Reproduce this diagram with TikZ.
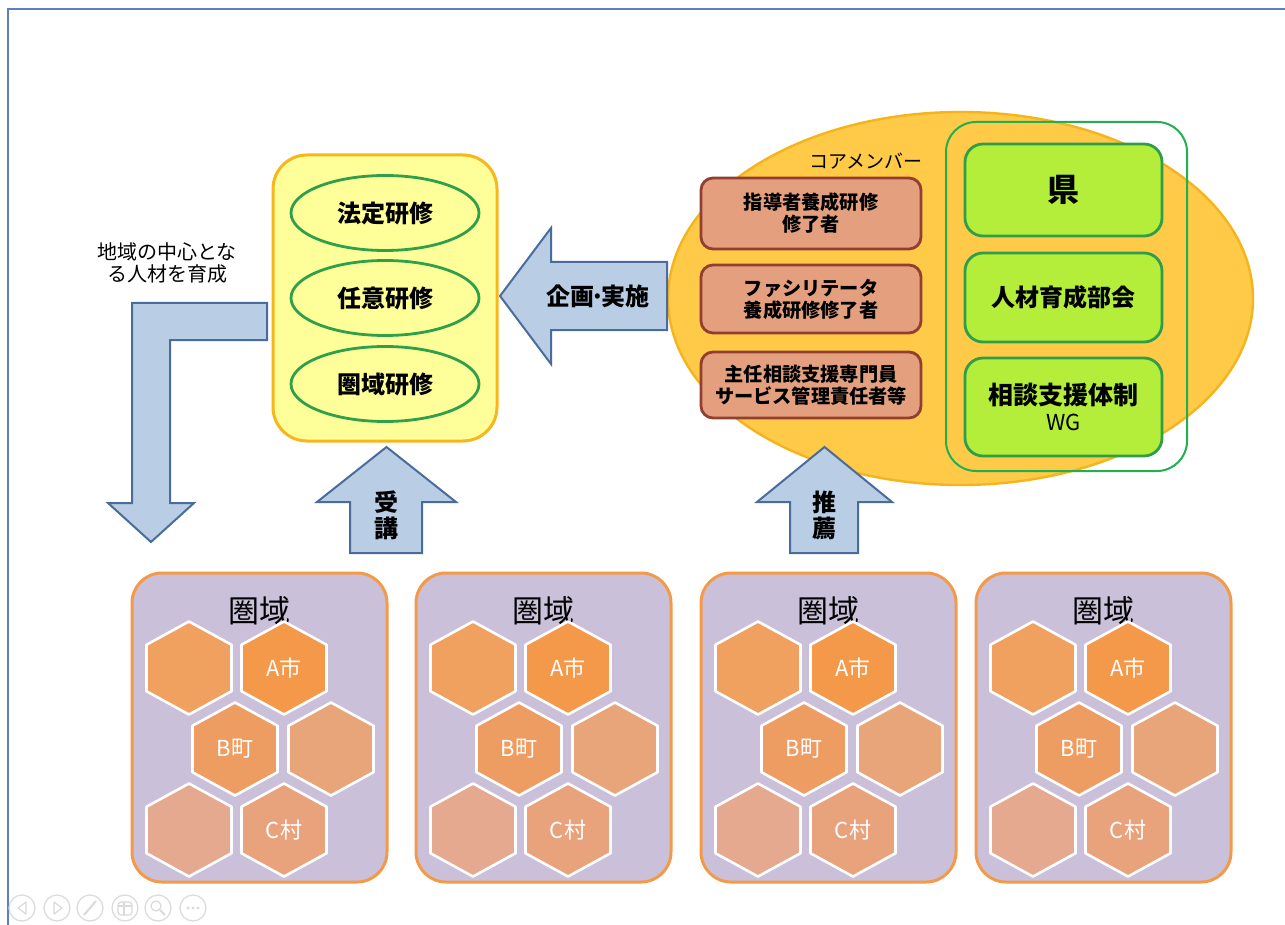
\documentclass[tikz,border=0pt]{standalone}
\usepackage{fontspec}
\setmainfont{Noto Sans CJK JP}
\usetikzlibrary{shapes.geometric}
\definecolor{frameblue}{HTML}{5B7EC6}
\definecolor{ybox}{HTML}{FFFF99}
\definecolor{ybord}{HTML}{F6B61C}
\definecolor{ovgreen}{HTML}{2EA04A}
\definecolor{ellf}{HTML}{FFCA47}
\definecolor{ellb}{HTML}{F5B41E}
\definecolor{brf}{HTML}{E4A07E}
\definecolor{brb}{HTML}{923E31}
\definecolor{gout}{HTML}{24AE50}
\definecolor{gbd}{HTML}{2E9E4A}
\definecolor{gfill}{HTML}{B4EE3A}
\definecolor{regf}{HTML}{CBC0DA}
\definecolor{regb}{HTML}{F39A4A}
\definecolor{arrf}{HTML}{B9CDE5}
\definecolor{arrb}{HTML}{4A6C9B}
\definecolor{hexa}{HTML}{F0A05F}
\definecolor{hexb}{HTML}{F4984A}
\definecolor{hexc}{HTML}{EE9D62}
\definecolor{hexd}{HTML}{E9A57A}
\definecolor{hexe}{HTML}{E4A98E}
\definecolor{hexf}{HTML}{E8A27C}
\definecolor{navgray}{HTML}{DADADA}
\newcommand\hexshape[3]{%
  \filldraw[hexst, fill=#3] (#1,#2) ++(0,-46.5) -- ++(42.5,23.25) -- ++(0,46.5)
    -- ++(-42.5,23.25) -- ++(-42.5,-23.25) -- ++(0,-46.5) -- cycle;}
\begin{document}
\begin{tikzpicture}[x=0.5pt,y=-0.5pt,
  yellowbox/.style={draw=ybord, fill=ybox, line width=1.5pt, rounded corners=17pt,
    minimum width=112pt, minimum height=143pt},
  ov/.style={ellipse, draw=ovgreen, fill=ybox, line width=1.4pt, minimum width=94pt,
    minimum height=37.5pt, inner sep=0pt, font=\bfseries\fontsize{12}{14}\selectfont},
  bigell/.style={ellipse, draw=ellb, fill=ellf, line width=1.2pt,
    minimum width=292.5pt, minimum height=186.5pt, inner sep=0pt},
  brownbox/.style={draw=brb, fill=brf, line width=1.4pt, rounded corners=6pt,
    minimum width=110pt, align=center, inner sep=0pt,
    font=\bfseries\fontsize{9.6}{11}\selectfont},
  gouter/.style={draw=gout, line width=1pt, rounded corners=15pt,
    minimum width=120.5pt, minimum height=174.5pt, inner sep=0pt},
  gbox/.style={draw=gbd, fill=gfill, line width=1.4pt, rounded corners=9pt,
    minimum width=98.5pt, align=center, inner sep=0pt,
    font=\bfseries\fontsize{12}{14}\selectfont},
  region/.style={draw=regb, fill=regf, line width=1.5pt, rounded corners=15pt,
    minimum width=127.5pt, minimum height=154.5pt, inner sep=0pt},
  blockarrow/.style={draw=arrb, fill=arrf, line width=1pt, line join=miter},
  hexst/.style={draw=white, line width=1.3pt, line join=round},
  hexlab/.style={text=white, font=\fontsize{11}{13}\selectfont},
  navc/.style={draw=navgray, line width=0.6pt}
]
\useasboundingbox (0,0) rectangle (1285,925);
\fill[white] (0,0) rectangle (1285,925);
% frame
\draw[frameblue, line width=1.2pt] (8,925) -- (8,9) -- (1285,9);

% left yellow box
\node[yellowbox] (train) at (385,298) {};
\node[ov] (hotei) at (385,213) {法定研修};
\node[ov] (nini) at (385,298) {任意研修};
\node[ov] (ken) at (385,384) {圏域研修};

% L arrow
\draw[blockarrow] (267,303) -- (132,303) -- (132,503) -- (108,503) -- (151,542)
  -- (194,503) -- (170,503) -- (170,340) -- (267,340) -- cycle;
\node[align=center, font=\fontsize{10}{11}\selectfont] (ikusei) at (167,263)
  {地域の中心とな\\る人材を育成};

% big ellipse
\node[bigell] (core) at (960.5,298.5) {};
\node[font=\fontsize{9.5}{11}\selectfont] (corelab) at (866,161) {コアメンバー};
\node[brownbox, minimum height=35.5pt] (b1) at (811,213.5) {指導者養成研修\\修了者};
\node[brownbox, minimum height=34pt] (b2) at (811,299) {ファシリテータ\\養成研修修了者};
\node[brownbox, minimum height=33pt] (b3) at (811,385) {主任相談支援専門員\\サービス管理責任者等};
\node[gouter] (gall) at (1066.5,296.5) {};
\node[gbox, minimum height=46pt, font=\bfseries\fontsize{16}{18}\selectfont] (pref) at (1063.5,190) {県};
\node[gbox, minimum height=44.5pt] (bukai) at (1063.5,297.5) {人材育成部会};
\node[gbox, minimum height=49pt] (wg) at (1063.5,407)
  {\fontsize{12.5}{14}\selectfont 相談支援体制\\[-1pt]{\mdseries\fontsize{11}{12}\selectfont WG}};

% left arrow 企画・実施
\draw[blockarrow] (667,262) -- (551,262) -- (551,228) -- (500,296) -- (551,364)
  -- (551,330) -- (667,330) -- cycle;
\node[font=\bfseries\fontsize{12}{14}\selectfont] (kikaku) at (598,296)
  {企画\kern-0.15em·\kern-0.15em実施};

% up arrows
\draw[blockarrow] (350,553) -- (350,502) -- (317,502) -- (386.5,447) -- (456,502)
  -- (422,502) -- (422,553) -- cycle;
\node[align=center, font=\bfseries\fontsize{12}{13}\selectfont] (jukou) at (386,515) {受\\講};
\draw[blockarrow] (790,553) -- (790,502) -- (757,502) -- (824.5,447) -- (892,502)
  -- (858,502) -- (858,553) -- cycle;
\node[align=center, font=\bfseries\fontsize{12}{13}\selectfont] (suisen) at (824,515) {推\\薦};

% regions
\foreach \L/\n in {132/1,416/2,701/3,976/4}{
  \node[region] (reg\n) at ({\L+127.5},727.5) {};
  \node[font=\fontsize{15.5}{17}\selectfont] (regl\n) at ({\L+127},611) {圏域};
  \hexshape{\L+57}{668}{hexa}
  \hexshape{\L+152}{668}{hexb}
  \hexshape{\L+103}{749}{hexc}
  \hexshape{\L+199}{749}{hexd}
  \hexshape{\L+57}{830}{hexe}
  \hexshape{\L+152}{830}{hexf}
  \node[hexlab] (a\n) at ({\L+152},668) {A市};
  \node[hexlab] (b\n) at ({\L+103},749) {B町};
  \node[hexlab] (c\n) at ({\L+152},830) {C村};
}

% presentation controls
\foreach \cx in {22,57,90,125,158,193}{
  \draw[navc] (\cx,908) circle (13);
}
\draw[navc, line join=round] (26,902) -- (18,908) -- (26,914) -- cycle;
\draw[navc, line join=round] (54,902) -- (62,908) -- (54,914) -- cycle;
\draw[navc, line width=1pt] (84,915) -- (96,901);
\draw[navc, rounded corners=1.5] (118,902) rectangle (132,915);
\draw[navc] (118,906) -- (132,906) (124,902) -- (124,915);
\draw[navc] (156,906) circle (5);
\draw[navc, line width=1pt] (160,910) -- (165,915);
\foreach \dx in {-5,0,5}{\fill[navgray] ({193+\dx},908) circle (1.6);}
\end{tikzpicture}
\end{document}
